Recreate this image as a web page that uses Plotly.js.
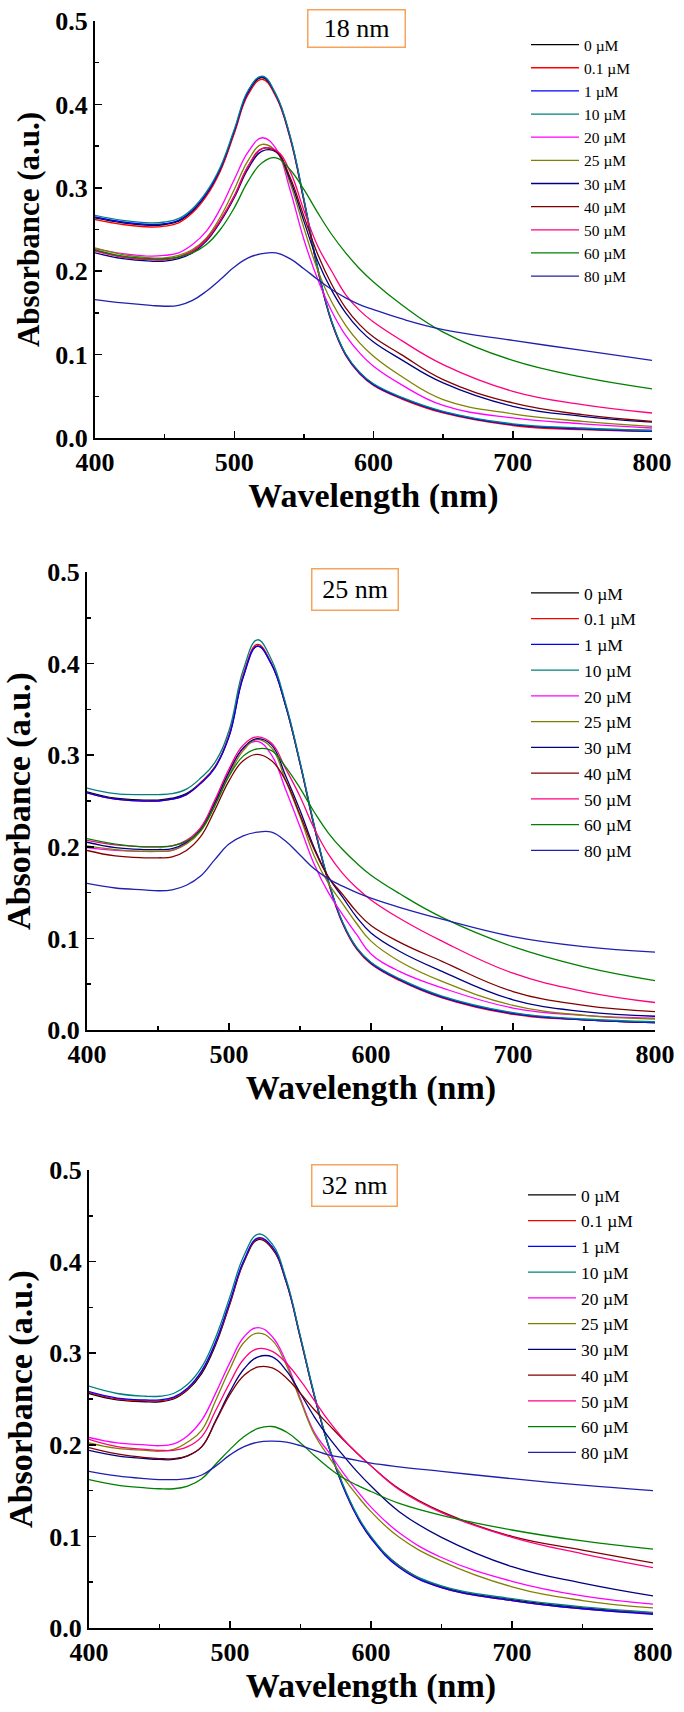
<!DOCTYPE html>
<html>
<head>
<meta charset="utf-8">
<script src="https://cdn.plot.ly/plotly-3.0.1.min.js"></script>
<style>
  html, body { margin: 0; padding: 0; background: #fff; }
  #chart { width: 684px; height: 1712px; }
</style>
</head>
<body>
<div id="chart"></div>
<script>
// ---------- DATA ----------
const wavelength = [400,420,440,450,460,470,480,490,500,510,520,530,540,550,560,570,580,590,600,620,650,700,750,800];
const concLabels = ['0 µM','0.1 µM','1 µM','10 µM','20 µM','25 µM','30 µM','40 µM','50 µM','60 µM','80 µM'];
const panelTitles = ['18 nm','25 nm','32 nm'];
const xTickVals = [400,500,600,700,800];
const yTickVals = [0,0.1,0.2,0.3,0.4,0.5];
const yTickText = ['0.0','0.1','0.2','0.3','0.4','0.5'];

// 18 nm
const a18_c0  = [0.264,0.258,0.255,0.256,0.260,0.272,0.292,0.322,0.367,0.414,0.432,0.410,0.361,0.285,0.202,0.139,0.100,0.078,0.064,0.048,0.031,0.016,0.011,0.009];
const a18_c01 = [0.262,0.256,0.253,0.254,0.258,0.270,0.290,0.320,0.365,0.412,0.430,0.409,0.360,0.284,0.201,0.138,0.099,0.077,0.063,0.047,0.030,0.015,0.010,0.008];
const a18_c1  = [0.265,0.259,0.256,0.257,0.261,0.273,0.293,0.323,0.368,0.415,0.433,0.411,0.362,0.286,0.203,0.139,0.100,0.078,0.064,0.048,0.031,0.016,0.011,0.008];
const a18_c10 = [0.267,0.261,0.258,0.259,0.263,0.275,0.295,0.325,0.370,0.417,0.434,0.412,0.363,0.287,0.204,0.140,0.101,0.079,0.065,0.049,0.032,0.017,0.012,0.009];
const a18_c20 = [0.227,0.221,0.218,0.219,0.222,0.232,0.248,0.275,0.310,0.343,0.360,0.347,0.298,0.238,0.190,0.152,0.123,0.102,0.086,0.064,0.039,0.024,0.017,0.012];
const a18_c25 = [0.228,0.220,0.216,0.216,0.219,0.226,0.240,0.265,0.298,0.333,0.352,0.344,0.306,0.252,0.201,0.163,0.135,0.114,0.098,0.074,0.046,0.029,0.020,0.014];
const a18_c30 = [0.222,0.215,0.212,0.212,0.215,0.222,0.236,0.259,0.288,0.323,0.344,0.343,0.310,0.260,0.212,0.177,0.150,0.130,0.115,0.094,0.066,0.038,0.026,0.019];
const a18_c40 = [0.225,0.217,0.214,0.214,0.217,0.224,0.238,0.261,0.290,0.326,0.347,0.344,0.313,0.266,0.220,0.184,0.156,0.136,0.121,0.100,0.070,0.042,0.028,0.020];
const a18_c50 = [0.224,0.217,0.214,0.214,0.217,0.224,0.238,0.261,0.290,0.326,0.347,0.345,0.320,0.273,0.230,0.200,0.172,0.153,0.139,0.117,0.088,0.056,0.040,0.030];
const a18_c60 = [0.226,0.218,0.215,0.215,0.217,0.222,0.232,0.250,0.276,0.308,0.330,0.336,0.322,0.298,0.270,0.244,0.222,0.203,0.187,0.160,0.127,0.093,0.073,0.059];
const a18_c80 = [0.166,0.162,0.159,0.158,0.159,0.165,0.176,0.190,0.205,0.216,0.221,0.222,0.215,0.203,0.190,0.178,0.168,0.160,0.154,0.143,0.130,0.117,0.105,0.093];

// 25 nm
const a25_c0  = [0.260,0.253,0.251,0.251,0.253,0.258,0.270,0.287,0.321,0.386,0.419,0.399,0.353,0.291,0.222,0.162,0.117,0.089,0.073,0.055,0.036,0.018,0.011,0.008];
const a25_c01 = [0.259,0.252,0.250,0.250,0.252,0.257,0.270,0.287,0.322,0.388,0.421,0.400,0.354,0.291,0.222,0.161,0.116,0.088,0.072,0.054,0.035,0.017,0.011,0.008];
const a25_c1  = [0.259,0.252,0.250,0.250,0.252,0.257,0.269,0.286,0.320,0.385,0.419,0.399,0.354,0.292,0.223,0.162,0.117,0.089,0.073,0.055,0.036,0.018,0.011,0.008];
const a25_c10 = [0.264,0.258,0.257,0.257,0.258,0.263,0.275,0.292,0.327,0.393,0.426,0.404,0.356,0.293,0.224,0.163,0.118,0.090,0.074,0.056,0.037,0.019,0.012,0.009];
const a25_c20 = [0.199,0.196,0.195,0.195,0.196,0.204,0.219,0.248,0.281,0.307,0.315,0.300,0.262,0.222,0.181,0.150,0.126,0.104,0.083,0.064,0.046,0.024,0.016,0.013];
const a25_c25 = [0.201,0.197,0.195,0.195,0.196,0.203,0.217,0.245,0.278,0.305,0.317,0.308,0.272,0.233,0.190,0.160,0.138,0.116,0.097,0.075,0.053,0.027,0.016,0.012];
const a25_c30 = [0.205,0.199,0.197,0.197,0.198,0.205,0.219,0.248,0.282,0.308,0.318,0.311,0.277,0.240,0.199,0.167,0.145,0.123,0.106,0.086,0.064,0.033,0.020,0.015];
const a25_c40 = [0.196,0.190,0.188,0.188,0.189,0.196,0.211,0.240,0.272,0.294,0.301,0.294,0.272,0.235,0.197,0.167,0.148,0.129,0.114,0.096,0.075,0.042,0.027,0.020];
const a25_c50 = [0.207,0.202,0.200,0.200,0.201,0.207,0.221,0.251,0.285,0.311,0.320,0.313,0.285,0.255,0.220,0.192,0.171,0.155,0.142,0.122,0.097,0.062,0.042,0.030];
const a25_c60 = [0.209,0.203,0.200,0.200,0.201,0.206,0.218,0.245,0.277,0.299,0.307,0.305,0.287,0.264,0.238,0.215,0.197,0.182,0.169,0.149,0.123,0.091,0.069,0.054];
const a25_c80 = [0.160,0.155,0.153,0.152,0.153,0.158,0.168,0.186,0.203,0.212,0.216,0.216,0.206,0.191,0.176,0.165,0.157,0.150,0.144,0.134,0.121,0.102,0.091,0.085];

// 32 nm
const a32_c0  = [0.256,0.249,0.247,0.247,0.250,0.260,0.278,0.310,0.354,0.400,0.424,0.414,0.377,0.316,0.252,0.198,0.156,0.123,0.099,0.068,0.045,0.031,0.022,0.016];
const a32_c01 = [0.257,0.250,0.248,0.248,0.251,0.261,0.280,0.312,0.355,0.401,0.425,0.415,0.377,0.316,0.252,0.198,0.155,0.122,0.098,0.067,0.044,0.030,0.021,0.016];
const a32_c1  = [0.258,0.251,0.249,0.249,0.252,0.262,0.281,0.313,0.357,0.402,0.426,0.416,0.378,0.317,0.253,0.198,0.155,0.122,0.098,0.066,0.044,0.030,0.021,0.015];
const a32_c10 = [0.264,0.256,0.253,0.253,0.256,0.266,0.285,0.318,0.362,0.407,0.430,0.419,0.380,0.318,0.254,0.199,0.157,0.124,0.100,0.068,0.046,0.032,0.023,0.017];
const a32_c20 = [0.208,0.202,0.200,0.199,0.201,0.210,0.227,0.257,0.290,0.318,0.328,0.318,0.290,0.250,0.213,0.192,0.170,0.150,0.132,0.104,0.077,0.051,0.035,0.026];
const a32_c25 = [0.202,0.196,0.194,0.193,0.195,0.203,0.216,0.249,0.283,0.312,0.322,0.314,0.287,0.248,0.211,0.187,0.165,0.145,0.127,0.099,0.073,0.045,0.030,0.022];
const a32_c30 = [0.194,0.188,0.185,0.184,0.184,0.188,0.198,0.227,0.258,0.283,0.296,0.296,0.281,0.256,0.230,0.208,0.189,0.171,0.155,0.127,0.099,0.067,0.049,0.035];
const a32_c40 = [0.197,0.190,0.186,0.185,0.185,0.188,0.198,0.226,0.255,0.276,0.285,0.284,0.273,0.256,0.238,0.222,0.206,0.191,0.177,0.152,0.127,0.100,0.085,0.071];
const a32_c50 = [0.206,0.198,0.195,0.194,0.194,0.198,0.209,0.238,0.268,0.294,0.305,0.302,0.289,0.270,0.248,0.226,0.207,0.191,0.177,0.151,0.126,0.099,0.081,0.066];
const a32_c60 = [0.162,0.156,0.153,0.152,0.152,0.155,0.163,0.179,0.195,0.209,0.218,0.220,0.214,0.202,0.188,0.175,0.164,0.156,0.149,0.136,0.123,0.107,0.095,0.086];
const a32_c80 = [0.171,0.166,0.163,0.162,0.162,0.163,0.167,0.177,0.189,0.198,0.203,0.204,0.203,0.199,0.194,0.189,0.186,0.183,0.180,0.176,0.171,0.163,0.156,0.150];

const series18 = [a18_c0,a18_c01,a18_c1,a18_c10,a18_c20,a18_c25,a18_c30,a18_c40,a18_c50,a18_c60,a18_c80];
const series25 = [a25_c0,a25_c01,a25_c1,a25_c10,a25_c20,a25_c25,a25_c30,a25_c40,a25_c50,a25_c60,a25_c80];
const series32 = [a32_c0,a32_c01,a32_c1,a32_c10,a32_c20,a32_c25,a32_c30,a32_c40,a32_c50,a32_c60,a32_c80];

// ---------- STYLE ----------
const palette = ['#000000','#FF0000','#0000FF','#008080','#FF00FF','#808000','#000080','#800000','#FF0080','#008000','#2020B0'];
const serif = 'Liberation Serif, Times New Roman, serif';

const panels = [
  { series: series18, xd: [95/684, 652/684], yd: [1-438/1712, 1-21/1712], ytitle: 31,
    legend: { x: 526/684, y: 1-28/1712, size: 15.5 },
    box: { x: 357/684, y: 1-29/1712, w: 96, h: 36 } },
  { series: series25, xd: [87/684, 655/684], yd: [1-1030/1712, 1-572/1712], ytitle: 34,
    legend: { x: 526/684, y: 1-575/1712, size: 17.5 },
    box: { x: 354.5/684, y: 1-589/1712, w: 85, h: 40 } },
  { series: series32, xd: [89/684, 653/684], yd: [1-1628/1712, 1-1170/1712], ytitle: 34,
    legend: { x: 523/684, y: 1-1177/1712, size: 17.5 },
    box: { x: 354.5/684, y: 1-1185/1712, w: 84, h: 40 } }
];

const traces = [];
const layout = {
  width: 684, height: 1712,
  margin: { l: 0, r: 0, t: 0, b: 0 },
  paper_bgcolor: '#ffffff', plot_bgcolor: '#ffffff',
  showlegend: true,
  annotations: []
};

panels.forEach((p, i) => {
  const n = i + 1;
  const xName = n === 1 ? 'x' : 'x' + n;
  const yName = n === 1 ? 'y' : 'y' + n;
  const lgName = n === 1 ? 'legend' : 'legend' + n;
  p.series.forEach((ys, j) => {
    traces.push({
      type: 'scatter', mode: 'lines',
      x: wavelength, y: ys, name: concLabels[j],
      xaxis: xName, yaxis: yName, legend: lgName,
      line: { color: palette[j], width: 1.3, shape: 'spline', smoothing: 1.2 },
      hoverinfo: 'skip'
    });
  });
  const tickFont = { family: serif, size: 26, color: '#000', weight: 'bold' };
  layout[n === 1 ? 'xaxis' : 'xaxis' + n] = {
    domain: p.xd, anchor: yName, range: [400, 800],
    tickmode: 'array', tickvals: xTickVals,
    ticks: 'inside', ticklen: 7, tickwidth: 1.5, tickcolor: '#000',
    minor: { dtick: 50, tick0: 400, ticks: 'inside', ticklen: 4, tickwidth: 1.5, tickcolor: '#000', showgrid: false },
    showline: true, linewidth: 2, linecolor: '#000',
    showgrid: false, zeroline: false, automargin: false,
    tickfont: tickFont, ticklabelstandoff: 0,
    title: { text: 'Wavelength (nm)', font: { family: serif, size: 34, color: '#000', weight: 'bold' }, standoff: 0 }
  };
  layout[n === 1 ? 'yaxis' : 'yaxis' + n] = {
    domain: p.yd, anchor: xName, range: [0, 0.5],
    tickmode: 'array', tickvals: yTickVals, ticktext: yTickText,
    ticks: 'inside', ticklen: 7, tickwidth: 1.5, tickcolor: '#000',
    minor: { dtick: 0.05, tick0: 0, ticks: 'inside', ticklen: 4, tickwidth: 1.5, tickcolor: '#000', showgrid: false },
    showline: true, linewidth: 2, linecolor: '#000',
    showgrid: false, zeroline: false, automargin: false,
    tickfont: tickFont, ticklabelstandoff: 0,
    title: { text: 'Absorbance (a.u.)', font: { family: serif, size: p.ytitle, color: '#000', weight: 'bold' }, standoff: 6 }
  };
  layout[lgName] = {
    x: p.legend.x, xanchor: 'left', y: p.legend.y, yanchor: 'top',
    xref: 'paper', yref: 'paper',
    bgcolor: 'rgba(0,0,0,0)', borderwidth: 0,
    font: { family: serif, size: p.legend.size, color: '#000' },
    itemwidth: 48, tracegroupgap: 0, traceorder: 'normal'
  };
  layout.annotations.push({
    xref: 'paper', yref: 'paper', x: p.box.x, y: p.box.y,
    xanchor: 'center', yanchor: 'middle',
    text: panelTitles[i], showarrow: false,
    font: { family: serif, size: 26, color: '#000' },
    bordercolor: '#F7A35C', borderwidth: 1.5, borderpad: 0,
    width: p.box.w, height: p.box.h, bgcolor: '#ffffff'
  });
});

Plotly.newPlot('chart', traces, layout, { staticPlot: true, displayModeBar: false });
</script>
</body>
</html>
